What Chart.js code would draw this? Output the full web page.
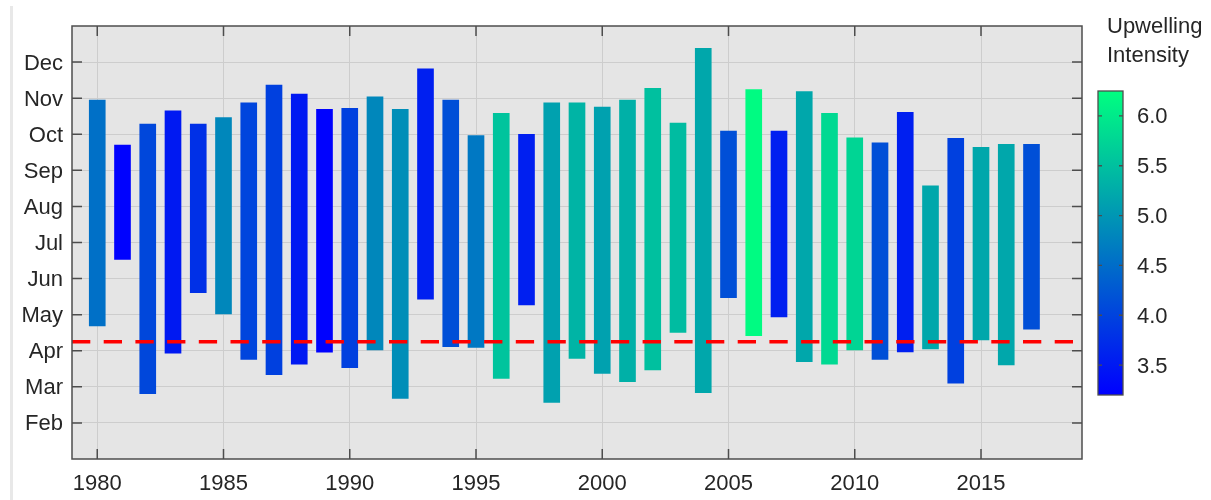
<!DOCTYPE html>
<html>
<head>
<meta charset="utf-8">
<script src="https://cdn.jsdelivr.net/npm/chart.js@4.4.1/dist/chart.umd.min.js"></script>
<style>
  body { margin: 0; background: #fff; }
  #wrap { position: relative; width: 1211px; height: 500px; }
  #wrap canvas { position: absolute; left: 0; top: 0; }
  #edge { position: absolute; left: 10px; top: 6px; width: 3px; height: 494px; background: #e8e8e8; }
  #cbTitle { position: absolute; left: 1107px; top: 11px; font: 22px/29px "Liberation Sans", Arial, sans-serif; color: #262626; }
</style>
</head>
<body>
<div id="wrap">
  <div id="edge"></div>
  <canvas id="main" width="1211" height="500"></canvas>
  <canvas id="cbar" width="1211" height="500"></canvas>
  <div id="cbTitle">Upwelling<br>Intensity</div>
</div>
<script>
// upwelling season per year, months as numbers (Feb = 2 ... Dec = 12)
const years = [1980, 1981, 1982, 1983, 1984, 1985, 1986, 1987, 1988, 1989,
  1990, 1991, 1992, 1993, 1994, 1995, 1996, 1997, 1998, 1999,
  2000, 2001, 2002, 2003, 2004, 2005, 2006, 2007, 2008, 2009,
  2010, 2011, 2012, 2013, 2014, 2015, 2016, 2017];
const startMonth = [4.69, 6.53, 2.81, 3.93, 5.61, 5.02, 3.76, 3.34, 3.63, 3.96,
  3.53, 4.02, 2.68, 5.43, 4.11, 4.09, 3.23, 5.27, 2.57, 3.79,
  3.37, 3.14, 3.47, 4.51, 2.84, 5.47, 4.42, 4.94, 3.70, 3.63,
  4.02, 3.76, 3.97, 4.05, 3.10, 4.30, 3.61, 4.60];
const endMonth = [10.95, 9.70, 10.28, 10.65, 10.28, 10.46, 10.87, 11.36, 11.11, 10.69,
  10.72, 11.04, 10.69, 11.81, 10.95, 9.96, 10.58, 10.00, 10.87, 10.87,
  10.75, 10.95, 11.27, 10.31, 12.38, 10.09, 11.24, 10.09, 11.18, 10.58,
  9.90, 9.76, 10.61, 8.57, 9.89, 9.64, 9.72, 9.72];
const intensity = [4.54, 3.22, 4.05, 3.50, 3.78, 4.82, 4.02, 3.97, 3.50, 3.22,
  3.97, 4.82, 4.90, 3.57, 4.15, 4.63, 5.55, 3.57, 5.12, 5.35,
  5.12, 5.30, 5.50, 5.45, 5.20, 4.15, 6.20, 3.57, 5.20, 5.80,
  5.75, 4.15, 3.57, 5.20, 3.97, 5.20, 5.20, 4.15];

const yearTicks = [1980, 1985, 1990, 1995, 2000, 2005, 2010, 2015];
const monthTicks = [2, 3, 4, 5, 6, 7, 8, 9, 10, 11, 12];
const monthLabels = ['Feb', 'Mar', 'Apr', 'May', 'Jun', 'Jul', 'Aug', 'Sep', 'Oct', 'Nov', 'Dec'];

const thresholdMonth = 4.25;
const thresholdYears = [1979, 2018.65];

const cbarMin = 3.2;
const cbarMax = 6.25;
const cbarTicks = [3.5, 4.0, 4.5, 5.0, 5.5, 6.0];

const FONT = { family: '"Liberation Sans", Arial, sans-serif', size: 22 };
const TEXT = '#262626';
const FRAME = '#4d4d4d';
const GRID = '#cdcdcd';

// matlab "winter" colormap: blue -> spring green
function winter(v) {
  let t = (v - cbarMin) / (cbarMax - cbarMin);
  t = Math.max(0, Math.min(1, t));
  return 'rgb(0,' + Math.round(255 * t) + ',' + Math.round(255 * (1 - 0.5 * t)) + ')';
}

// grey axes background, box and inward tick marks
const axesBox = {
  id: 'axesBox',
  beforeDraw(chart) {
    const a = chart.chartArea, c = chart.ctx;
    c.save();
    c.fillStyle = '#e5e5e5';
    c.fillRect(a.left, a.top, a.right - a.left, a.bottom - a.top);
    c.restore();
  },
  afterDraw(chart) {
    const a = chart.chartArea, c = chart.ctx;
    const xs = chart.scales.x, ys = chart.scales.y;
    c.save();
    c.strokeStyle = FRAME;
    c.lineWidth = 1.5;
    c.strokeRect(a.left, a.top, a.right - a.left, a.bottom - a.top);
    c.beginPath();
    yearTicks.forEach(function (v) {
      const px = xs.getPixelForValue(v);
      c.moveTo(px, a.bottom); c.lineTo(px, a.bottom - 10);
      c.moveTo(px, a.top); c.lineTo(px, a.top + 10);
    });
    monthTicks.forEach(function (v) {
      const py = ys.getPixelForValue(v);
      c.moveTo(a.left, py); c.lineTo(a.left + 10, py);
      c.moveTo(a.right, py); c.lineTo(a.right - 10, py);
    });
    c.stroke();
    c.restore();
  }
};

new Chart(document.getElementById('main'), {
  type: 'bar',
  data: {
    datasets: [{
      type: 'line',
      data: thresholdYears.map(x => ({ x: x, y: thresholdMonth })),
      borderColor: '#ff0000',
      borderWidth: 3.7,
      borderDash: [18.3, 13.4],
      pointRadius: 0,
      order: 0
    }, {
      type: 'bar',
      data: years.map((yr, i) => ({ x: yr, y: [startMonth[i], endMonth[i]] })),
      backgroundColor: intensity.map(winter),
      barThickness: 16,
      borderWidth: 0,
      order: 1
    }]
  },
  options: {
    responsive: false,
    animation: false,
    devicePixelRatio: 1,
    layout: { padding: { top: 26, right: 129, left: 0, bottom: 0 } },
    plugins: { legend: { display: false }, tooltip: { enabled: false } },
    scales: {
      x: {
        type: 'linear', min: 1979, max: 2019, offset: false,
        grid: { color: GRID, offset: false, drawTicks: false },
        border: { display: false },
        ticks: { font: FONT, color: TEXT, padding: 12, callback: v => String(v) },
        afterBuildTicks: s => { s.ticks = yearTicks.map(v => ({ value: v })); },
        afterFit: s => { s.height = 41; }
      },
      y: {
        type: 'linear', min: 1, max: 13,
        grid: { color: GRID, drawTicks: false },
        border: { display: false },
        ticks: { font: FONT, color: TEXT, padding: 9, labelOffset: 1.5, callback: (v, i) => monthLabels[i] },
        afterBuildTicks: s => { s.ticks = monthTicks.map(v => ({ value: v })); },
        afterFit: s => { s.width = 72; }
      }
    }
  },
  plugins: [axesBox]
});

// colorbar frame + small ticks on both sides
const cbarFrame = {
  id: 'cbarFrame',
  afterDraw(chart) {
    const a = chart.chartArea, c = chart.ctx, ys = chart.scales.y;
    c.save();
    c.strokeStyle = FRAME;
    c.lineWidth = 1.3;
    c.strokeRect(a.left, a.top, a.right - a.left, a.bottom - a.top);
    c.beginPath();
    cbarTicks.forEach(function (v) {
      const py = ys.getPixelForValue(v);
      c.moveTo(a.left, py); c.lineTo(a.left + 4, py);
      c.moveTo(a.right, py); c.lineTo(a.right - 4, py);
    });
    c.stroke();
    c.restore();
  }
};

new Chart(document.getElementById('cbar'), {
  type: 'bar',
  data: {
    labels: ['cbar'],
    datasets: [{
      data: [[cbarMin, cbarMax]],
      backgroundColor: function (ctx) {
        const area = ctx.chart.chartArea;
        if (!area) return winter(cbarMin);
        const g = ctx.chart.ctx.createLinearGradient(0, area.bottom, 0, area.top);
        g.addColorStop(0, winter(cbarMin));
        g.addColorStop(1, winter(cbarMax));
        return g;
      },
      barPercentage: 1,
      categoryPercentage: 1,
      borderWidth: 0
    }]
  },
  options: {
    responsive: false,
    animation: false,
    devicePixelRatio: 1,
    layout: { padding: { left: 1098, top: 91, bottom: 105, right: 0 } },
    plugins: { legend: { display: false }, tooltip: { enabled: false } },
    scales: {
      x: { display: false },
      y: {
        position: 'right', min: cbarMin, max: cbarMax,
        grid: { display: false, drawTicks: false },
        border: { display: false },
        ticks: { font: FONT, color: TEXT, padding: 14, labelOffset: 1.5, callback: v => v.toFixed(1) },
        afterBuildTicks: s => { s.ticks = cbarTicks.map(v => ({ value: v })); },
        afterFit: s => { s.width = 88; }
      }
    }
  },
  plugins: [cbarFrame]
});
</script>
</body>
</html>
